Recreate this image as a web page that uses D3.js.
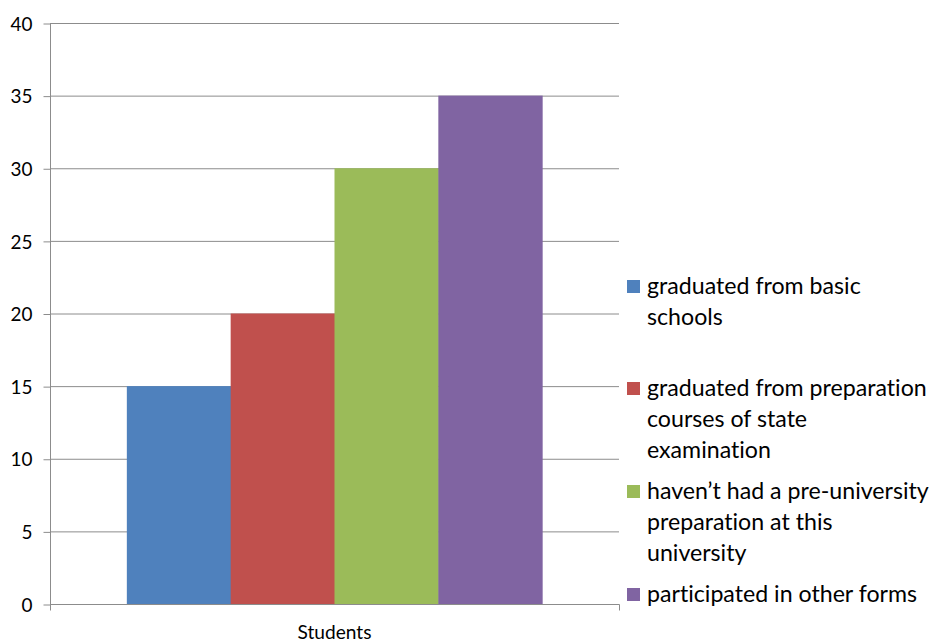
<!DOCTYPE html>
<html><head><meta charset="utf-8">
<script src="https://cdn.jsdelivr.net/npm/d3@7"></script>
<style>body{margin:0;background:#fff}svg{display:block}text{font-variant-ligatures:none;font-feature-settings:"liga" 0,"dlig" 0}</style>
</head><body>
<svg id="c" width="929" height="643"></svg>
<script>
const categories = ["Students"];
const seriesNames = [
  "graduated from basic schools",
  "graduated from preparation courses of state examination",
  "haven\u2019t had a pre-university preparation at this university",
  "participated in other forms"
];
const seriesValues = [15, 20, 30, 35];
const legendLines = [
  ["graduated from basic", "schools"],
  ["graduated from preparation", "courses of state", "examination"],
  ["haven\u2019t had a pre-university", "preparation at this", "university"],
  ["participated in other forms"]
];
const yTicks = [0, 5, 10, 15, 20, 25, 30, 35, 40];
const colors = ["#4F81BD", "#C0504D", "#9BBB59", "#8064A2"];

const svg = d3.select("#c");
const font = "Lato, 'Open Sans', sans-serif";
const L = 50, R = 619, T = 23, B = 604;
const y = d3.scaleLinear().domain([0, 40]).range([B, T]);
const x0 = d3.scaleBand().domain(categories).range([L, R]).paddingInner(0).paddingOuter(0.185);
const x1 = d3.scaleBand().domain(d3.range(seriesValues.length)).range([0, x0.bandwidth()]);

// gridlines
svg.append("g").selectAll("line").data(yTicks.filter(d => d > 0)).join("line")
  .attr("x1", L).attr("x2", R).attr("y1", d => y(d) + 0.5).attr("y2", d => y(d) + 0.5)
  .attr("stroke", "#8c8c8c").attr("stroke-width", 1);

// bars
svg.append("g").selectAll("rect").data(seriesValues).join("rect")
  .attr("x", (d, i) => x0("Students") + x1(i))
  .attr("width", x1.bandwidth() + 0.5)
  .attr("y", d => y(d))
  .attr("height", d => y(0) - y(d))
  .attr("fill", (d, i) => colors[i]);

// y axis
const yAxis = d3.axisLeft(y).tickValues(yTicks).tickSize(7).tickPadding(11);
const gy = svg.append("g").attr("transform", `translate(${L + 0.5},0.5)`).call(yAxis);
gy.select(".domain").attr("stroke", "#8c8c8c").attr("d", `M0,${T}V${B}`);
gy.selectAll(".tick line").attr("stroke", "#8c8c8c");
gy.selectAll(".tick text").attr("font-family", font).attr("font-size", 18).attr("fill", "#000").attr("dy", "0.35em");
const t40 = gy.selectAll(".tick text").filter(function () { return this.textContent === "40"; }).node();
const fsY = 18 * 22 / t40.getComputedTextLength();
gy.selectAll(".tick text").attr("font-size", fsY);

// x axis
const gx = svg.append("g").attr("transform", `translate(0,${B + 0.5})`);
gx.append("line").attr("x1", L).attr("x2", R + 0.5).attr("stroke", "#8c8c8c");
gx.selectAll(".xt").data([L, R]).join("line").attr("class", "xt")
  .attr("x1", d => d + 0.5).attr("x2", d => d + 0.5).attr("y1", 0).attr("y2", 6).attr("stroke", "#8c8c8c");
const xl = gx.append("text").attr("x", x0("Students") + x0.bandwidth() / 2).attr("y", 28)
  .attr("dy", "0.35em")
  .attr("text-anchor", "middle").attr("font-family", font).attr("font-size", 16).text(categories[0]);
xl.attr("font-size", 16 * 74 / xl.node().getComputedTextLength());

// legend
const legendY = [286, 388, 491, 594];
const lg = svg.append("g");
legendLines.forEach((lines, i) => {
  lg.append("rect").attr("x", 627).attr("y", legendY[i] - 6).attr("width", 13).attr("height", 13).attr("fill", colors[i]);
  lines.forEach((t, j) => {
    lg.append("text").attr("class", "lt").attr("x", 647).attr("y", legendY[i] + j * 31).attr("dy", "0.35em")
      .attr("font-family", font).attr("font-size", 20).attr("fill", "#000").text(t);
  });
});
const probe = lg.selectAll(".lt").filter(function () { return this.textContent === "graduated from preparation"; }).node();
const fs = 20 * 280 / probe.getComputedTextLength();
lg.selectAll(".lt").attr("font-size", fs);
</script>
</body></html>
